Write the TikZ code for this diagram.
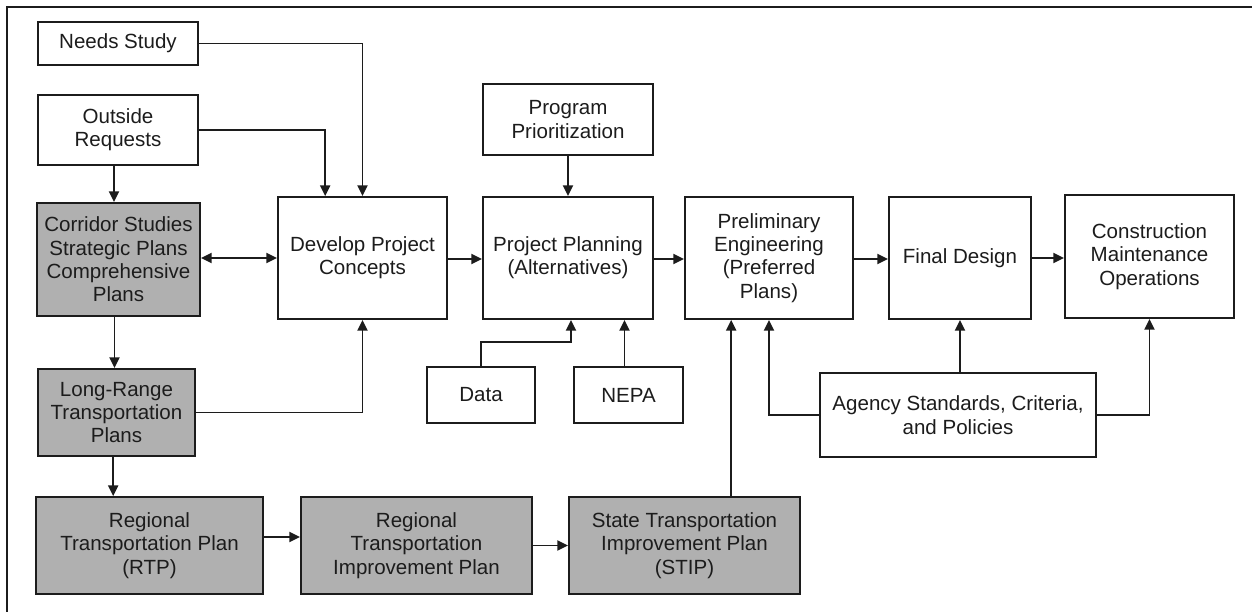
\documentclass[tikz,border=0pt]{standalone}
\usepackage{fontspec}
\setmainfont{Liberation Sans}
\usetikzlibrary{arrows.meta,calc}
\definecolor{boxgray}{RGB}{176,176,176}
\definecolor{ink}{RGB}{28,28,28}
\tikzset{
 base/.style={draw=ink, line width=1.4pt, inner sep=0pt, align=center, font=\fontsize{15.4}{17.5}\selectfont, text=ink},
 wbox/.style={base, fill=white},
 gbox/.style={base, fill=boxgray},
 conn/.style={draw=ink, line width=1.4pt, -{Triangle[length=8pt,width=7.5pt]}},
 dconn/.style={draw=ink, line width=1.4pt, {Triangle[length=8pt,width=7.5pt]}-{Triangle[length=8pt,width=7.5pt]}},
 frame/.style={draw=ink, line width=1.5pt},
}
% \mybox{name}{x1}{y1}{x2}{y2}{style}{text}  (pixel coordinates, y downwards)
\newcommand{\mybox}[7]{%
 \pgfmathsetmacro{\mbcx}{(#2+#4)/2}%
 \pgfmathsetmacro{\mbcy}{(#3+#5)/2}%
 \pgfmathsetmacro{\mbww}{(#4-#2)*0.75}%
 \pgfmathsetmacro{\mbhh}{(#5-#3)*0.75}%
 \node[#6, minimum width=\mbww pt, minimum height=\mbhh pt] (#1) at (\mbcx,\mbcy) {#7};}
\begin{document}
\begin{tikzpicture}[x=0.75pt,y=-0.75pt]
\useasboundingbox (0,0) rectangle (1252,612);
% outer frame (top and left only)
\draw[frame] (1252,7) -- (7,7) -- (7,612);

\mybox{ns}{38}{22}{198}{65}{wbox}{Needs Study}
\mybox{or}{38}{95}{198}{165}{wbox}{Outside\\Requests}
\mybox{cs}{37}{203}{200}{316}{gbox}{Corridor Studies\\Strategic Plans\\Comprehensive\\Plans}
\mybox{lr}{38}{369}{195}{456}{gbox}{Long-Range\\Transportation\\Plans}
\mybox{rtp}{36}{497}{263}{594}{gbox}{Regional\\Transportation Plan\\(RTP)}
\mybox{rtip}{301}{497}{532}{594}{gbox}{Regional\\Transportation\\Improvement Plan}
\mybox{stip}{569}{497}{800}{594}{gbox}{State Transportation\\Improvement Plan\\(STIP)}
\mybox{dpc}{278}{197}{447}{319}{wbox}{Develop Project\\Concepts}
\mybox{pp}{483}{197}{653}{319}{wbox}{Project Planning\\(Alternatives)}
\mybox{prog}{483}{84}{653}{155}{wbox}{Program\\Prioritization}
\mybox{pe}{685}{197}{853}{319}{wbox}{Preliminary\\Engineering\\(Preferred\\Plans)}
\mybox{fd}{889}{197}{1031}{319}{wbox}{Final Design}
\mybox{co}{1065}{195}{1234}{318}{wbox}{Construction\\Maintenance\\Operations}
\mybox{data}{427}{367}{535}{423}{wbox}{Data}
\mybox{nepa}{574}{367}{683}{423}{wbox}{NEPA}
\mybox{ag}{820}{373}{1096}{457}{wbox}{Agency Standards, Criteria,\\and Policies}

% connectors
\draw[conn] (ns.east) -| (dpc.north);
\draw[conn] (or.east) -| ([xshift=-28pt]dpc.north);
\draw[conn] ([xshift=-3pt]or.south) -- ([xshift=-3pt]or.south |- cs.north);
\draw[dconn] (cs.east |- 0,258) -- (dpc.west |- 0,258);
\draw[conn] ([xshift=-3pt]cs.south) -- ([xshift=-3pt]cs.south |- lr.north);
\draw[conn] (lr.east) -| (dpc.south);
\draw[conn] ([xshift=-2.5pt]lr.south) -- ([xshift=-2.5pt]lr.south |- rtp.north);
\draw[conn] (rtp.east |- 0,537) -- (rtip.west |- 0,537);
\draw[conn] (rtip.east) -- (stip.west);
\draw[conn] ([xshift=35pt]stip.north) -- ([xshift=35pt]stip.north |- pe.south);
\draw[conn] (dpc.east |- 0,259) -- (pp.west |- 0,259);
\draw[conn] (pp.east |- 0,259) -- (pe.west |- 0,259);
\draw[conn] (pe.east |- 0,259) -- (fd.west |- 0,259);
\draw[conn] (fd.east |- 0,258) -- (co.west |- 0,258);
\draw[conn] (prog.south) -- (pp.north);
\draw[conn] (data.north) |- ([xshift=2.25pt,yshift=-16.5pt]pp.south) -- ([xshift=2.25pt]pp.south);
\draw[conn] ([xshift=-3pt]nepa.north) -- ([xshift=-3pt]nepa.north |- pp.south);
\draw[conn] (ag.west) -| (pe.south);
\draw[conn] (fd.south |- ag.north) -- (fd.south);
\draw[conn] (ag.east) -| (co.south);
\end{tikzpicture}
\end{document}
